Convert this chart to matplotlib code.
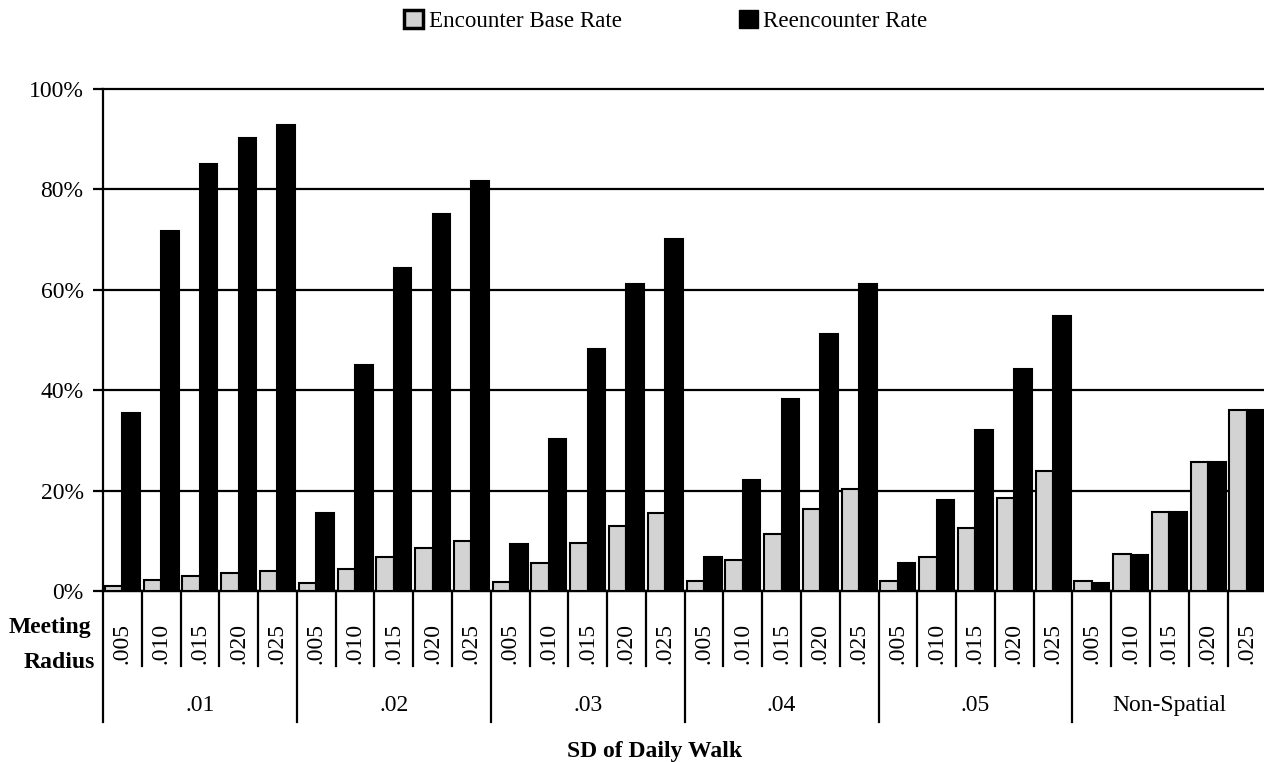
import matplotlib
matplotlib.use("Agg")
import matplotlib.pyplot as plt
from matplotlib.patches import Patch
import matplotlib.transforms as mtransforms
import numpy as np

plt.rcParams['font.family'] = ['Liberation Serif', 'DejaVu Serif']

# data (percent)
walk_sd = [".01", ".02", ".03", ".04", ".05", "Non-Spatial"]
radius = [".005", ".010", ".015", ".020", ".025"]

base_rate = [1.0, 2.2, 3.0, 3.5, 4.0,
             1.5, 4.3, 6.8, 8.5, 10.0,
             1.8, 5.6, 9.5, 13.0, 15.5,
             2.0, 6.2, 11.4, 16.3, 20.4,
             2.0, 6.8, 12.6, 18.6, 24.0,
             2.0, 7.4, 15.8, 25.6, 36.0]
reencounter = [35.5, 71.8, 85.0, 90.2, 92.9,
               15.5, 45.1, 64.3, 75.1, 81.6,
               9.3, 30.2, 48.3, 61.2, 70.2,
               6.8, 22.2, 38.2, 51.2, 61.2,
               5.6, 18.2, 32.0, 44.3, 54.8,
               1.6, 7.2, 15.7, 25.6, 36.0]

n = len(base_rate)
x = np.arange(n) + 0.5
w = 0.45
fs = 17

fig = plt.figure(figsize=(12.64, 7.62), dpi=100)
ax = fig.add_axes([103 / 1264, 1 - 591 / 762, 1161 / 1264, 502 / 762])

ax.bar(x - w / 2, base_rate, width=w, color="#d3d3d3", edgecolor="black", linewidth=1.5, zorder=3)
ax.bar(x + w / 2, reencounter, width=w, color="black", edgecolor="black", linewidth=1.5, zorder=3)

ax.set_ylim(0, 100)
ax.set_xlim(0, 29.94)
ax.set_yticks([0, 20, 40, 60, 80, 100])
ax.set_yticklabels([f"{v}%" for v in [0, 20, 40, 60, 80, 100]], fontsize=fs)
ax.yaxis.grid(True, color="black", linewidth=1.6, zorder=1)
for gl in ax.yaxis.get_gridlines():
    gl.set_clip_on(False)
ax.tick_params(axis="y", length=7, width=1.6, pad=7)
ax.set_xticks([])
for s in ["top", "right"]:
    ax.spines[s].set_visible(False)
ax.spines["left"].set_linewidth(1.6)
ax.spines["bottom"].set_linewidth(1.6)

# category axis below: radius labels and separators
trans = mtransforms.blended_transform_factory(ax.transData, ax.transAxes)
for i in range(n + 1):
    bottom = -0.261 if i % 5 == 0 else -0.149
    ax.plot([i, i], [0, bottom], color="black", linewidth=1.6, transform=trans, clip_on=False)
for i in range(n):
    ax.text(i + 0.5, -0.104, radius[i % 5], rotation=90, ha="center", va="center",
            fontsize=fs, transform=trans)
for g, name in enumerate(walk_sd):
    ax.text(g * 5 + 2.5, -0.229, name, ha="center", va="center", fontsize=fs, transform=trans)

fig.text(91 / 1264, 1 - 628 / 762, "Meeting", ha="right", va="center", fontsize=fs, fontweight="bold")
fig.text(95 / 1264, 1 - 663 / 762, "Radius", ha="right", va="center", fontsize=fs, fontweight="bold")
fig.text(655 / 1264, 1 - 752 / 762, "SD of Daily Walk", ha="center", va="center", fontsize=fs, fontweight="bold")

handles = [Patch(facecolor="#d3d3d3", edgecolor="black", linewidth=2.5),
           Patch(facecolor="black", edgecolor="black")]
fig.legend(handles, ["Encounter Base Rate", "Reencounter Rate"], loc="center",
           bbox_to_anchor=(666 / 1264, 1 - 21 / 762), ncol=2, frameon=False, fontsize=16.6,
           handlelength=0.8, handleheight=0.8, handletextpad=0.25, columnspacing=5.1)

fig.savefig("out.png", dpi=100)
